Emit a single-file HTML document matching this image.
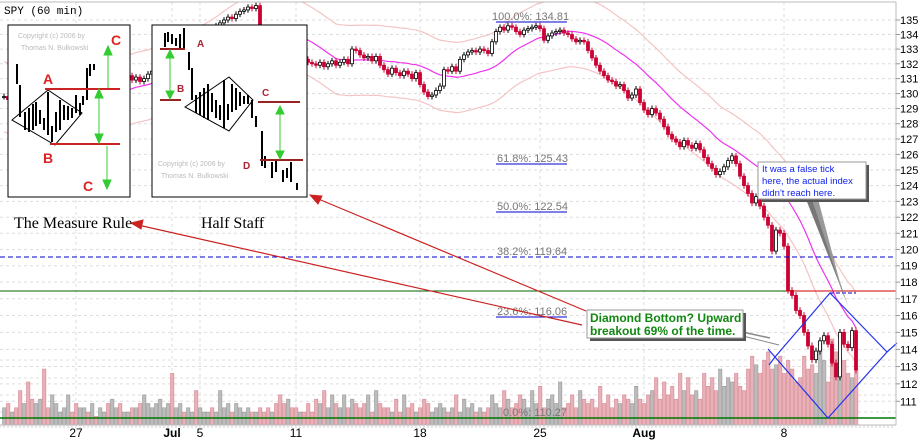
<!DOCTYPE html>
<html><head><meta charset="utf-8"><style>
body{margin:0;background:#fff;}
svg{display:block;font-family:"Liberation Sans",sans-serif;}
</style></head><body>
<svg id="chart" width="920" height="440" viewBox="0 0 920 440" xmlns="http://www.w3.org/2000/svg">
<rect x="0" y="0" width="920" height="440" fill="#fff"/>
<g id="grid"></g>
<g id="vol"></g>
<g id="bands"></g>
<g id="candles"></g>
<g id="overlay">
 <line x1="0" y1="257" x2="896" y2="257" stroke="#0000cc" stroke-dasharray="5,3"/>
 <line x1="0" y1="291" x2="785" y2="291" stroke="#006600"/>
 <line x1="785" y1="291" x2="896" y2="291" stroke="#cc0000"/>
 <line x1="0" y1="418" x2="896" y2="418" stroke="#007700" stroke-width="1.5"/>
 <line x1="830" y1="293" x2="856" y2="293" stroke="#0000cc" stroke-dasharray="4,2"/>
 <polygon points="830,293 887,352 828,418 775,357" fill="none" stroke="#2233ee" stroke-width="1.2"/>
 <line x1="887" y1="352" x2="897" y2="343" stroke="#2233ee" stroke-width="1.2"/>
 <line x1="775" y1="357" x2="768" y2="349" stroke="#2233ee" stroke-width="1.2"/>
 <line x1="775" y1="357" x2="769" y2="365" stroke="#2233ee" stroke-width="1.2"/>
</g>
<g id="fib" font-size="11" fill="#777">
 <text x="492" y="20">100.0%: 134.81</text>
 <line x1="496" y1="22" x2="567" y2="22" stroke="#0000cc"/>
 <text x="497" y="162">61.8%: 125.43</text>
 <line x1="496" y1="164" x2="567" y2="164" stroke="#0000cc"/>
 <text x="497" y="210">50.0%: 122.54</text>
 <line x1="496" y1="212" x2="567" y2="212" stroke="#0000cc"/>
 <text x="497" y="255">38.2%: 119.64</text>
 <text x="497" y="315">23.6%: 116.06</text>
 <line x1="496" y1="317" x2="567" y2="317" stroke="#0000cc"/>
 <text x="503" y="416">0.0%: 110.27</text>
</g>
<line x1="0" y1="2" x2="896" y2="2" stroke="#bbb"/>
<line x1="0" y1="425" x2="896" y2="425" stroke="#bbb"/>
<line x1="896" y1="2" x2="896" y2="425" stroke="#bbb"/>
<g id="yaxis" font-size="11" fill="#000"></g>
<g id="xaxis" font-size="12" fill="#000"></g>
<text x="4" y="14" font-size="11" fill="#000" font-family="Liberation Mono, monospace">SPY (60 min)</text>

<g>
 <rect x="8" y="25" width="122" height="172" fill="#fff" stroke="#000"/>
 <text x="18" y="38" font-size="7" fill="#bbb">Copyright (c) 2006 by</text>
 <text x="21" y="50" font-size="7" fill="#bbb">Thomas N. Bulkowski</text>
 <polygon points="12,120 48,90 82,113 55,145" fill="none" stroke="#000"/>
 <g stroke="#000" stroke-width="2">
  <line x1="17" y1="64" x2="17" y2="84"/><line x1="20" y1="85" x2="20" y2="117"/><line x1="25" y1="112" x2="25" y2="130"/>
  <line x1="29" y1="108" x2="29" y2="132"/><line x1="33" y1="104" x2="33" y2="130"/><line x1="36" y1="102" x2="36" y2="126"/>
  <line x1="40" y1="110" x2="40" y2="124"/><line x1="44" y1="118" x2="44" y2="130"/><line x1="48" y1="92" x2="48" y2="135"/>
  <line x1="52" y1="126" x2="52" y2="142"/><line x1="56" y1="112" x2="56" y2="132"/><line x1="60" y1="100" x2="60" y2="130"/>
  <line x1="64" y1="105" x2="64" y2="120"/><line x1="68" y1="106" x2="68" y2="120"/><line x1="72" y1="108" x2="72" y2="118"/>
  <line x1="76" y1="95" x2="76" y2="113"/><line x1="80" y1="103" x2="80" y2="115"/><line x1="83" y1="96" x2="83" y2="105"/>
  <line x1="87" y1="68" x2="87" y2="100"/><line x1="90" y1="64" x2="90" y2="76"/><line x1="94" y1="64" x2="94" y2="70"/>
 </g>
 <line x1="45" y1="89" x2="120" y2="89" stroke="#cc2222" stroke-width="2"/>
 <line x1="50" y1="144" x2="120" y2="144" stroke="#cc2222" stroke-width="2"/>
 <g stroke="#33cc33" fill="#33cc33">
  <line x1="108" y1="48" x2="108" y2="88"/><polygon points="104,55 108,46 112,55"/>
  <line x1="99" y1="91" x2="99" y2="142"/><polygon points="95,98 99,89 103,98"/><polygon points="95,134 99,143 103,134"/>
  <line x1="107" y1="146" x2="107" y2="188"/><polygon points="103,180 107,189 111,180"/>
 </g>
 <g fill="#dd2222" font-size="14" font-weight="bold">
  <text x="111" y="45">C</text><text x="43" y="84">A</text><text x="43" y="163">B</text><text x="83" y="191">C</text>
 </g>
</g>
<g>
 <rect x="152" y="25" width="155" height="172" fill="#fff" stroke="#000"/>
 <g stroke="#000" stroke-width="2">
  <line x1="165" y1="33" x2="165" y2="47"/><line x1="168" y1="32" x2="168" y2="42"/><line x1="172" y1="34" x2="172" y2="44"/>
  <line x1="176" y1="38" x2="176" y2="46"/><line x1="180" y1="34" x2="180" y2="48"/><line x1="184" y1="28" x2="184" y2="48"/>
  <line x1="189" y1="52" x2="189" y2="70"/><line x1="192" y1="68" x2="192" y2="100"/><line x1="196" y1="95" x2="196" y2="113"/>
  <line x1="200" y1="92" x2="200" y2="115"/><line x1="204" y1="88" x2="204" y2="118"/><line x1="208" y1="84" x2="208" y2="120"/>
  <line x1="212" y1="93" x2="212" y2="112"/><line x1="216" y1="100" x2="216" y2="118"/><line x1="220" y1="105" x2="220" y2="120"/>
  <line x1="224" y1="80" x2="224" y2="128"/><line x1="228" y1="104" x2="228" y2="120"/><line x1="232" y1="84" x2="232" y2="112"/>
  <line x1="236" y1="88" x2="236" y2="110"/><line x1="240" y1="92" x2="240" y2="106"/><line x1="244" y1="96" x2="244" y2="104"/>
  <line x1="248" y1="95" x2="248" y2="104"/><line x1="252" y1="100" x2="252" y2="118"/><line x1="256" y1="116" x2="256" y2="127"/>
  <line x1="262" y1="131" x2="262" y2="166"/><line x1="265" y1="156" x2="265" y2="168"/><line x1="272" y1="162" x2="272" y2="178"/>
  <line x1="276" y1="160" x2="276" y2="172"/><line x1="283" y1="170" x2="283" y2="182"/><line x1="287" y1="168" x2="287" y2="178"/>
  <line x1="291" y1="162" x2="291" y2="182"/><line x1="297" y1="183" x2="297" y2="190"/>
 </g>
 <polygon points="185,107 229,77 253,100 229,131" fill="none" stroke="#000"/>
 <line x1="160" y1="49" x2="185" y2="49" stroke="#992222" stroke-width="2"/>
 <line x1="160" y1="100" x2="181" y2="100" stroke="#992222" stroke-width="2"/>
 <line x1="258" y1="102" x2="300" y2="102" stroke="#992222" stroke-width="2"/>
 <line x1="260" y1="160" x2="303" y2="160" stroke="#992222" stroke-width="2"/>
 <g stroke="#33cc33" fill="#33cc33">
  <line x1="170" y1="51" x2="170" y2="98"/><polygon points="166,58 170,50 174,58"/><polygon points="166,91 170,99 174,91"/>
  <line x1="280" y1="106" x2="280" y2="158"/><polygon points="276,114 280,106 284,114"/><polygon points="276,151 280,159 284,151"/>
 </g>
 <g fill="#aa2233" font-size="10" font-weight="bold">
  <text x="197" y="47">A</text><text x="177" y="92">B</text><text x="262" y="96">C</text><text x="243" y="169">D</text>
 </g>
 <text x="158" y="166" font-size="7" fill="#bbb">Copyright (c) 2006 by</text>
 <text x="161" y="178" font-size="7" fill="#bbb">Thomas N. Bulkowski</text>
</g>
<text x="14" y="228" font-size="16" font-family="Liberation Serif, serif" fill="#000">The Measure Rule</text>
<text x="201" y="228" font-size="16" font-family="Liberation Serif, serif" fill="#000">Half Staff</text>

<g stroke="#cc2222" fill="#cc2222">
 <line x1="586" y1="311" x2="316" y2="198" stroke-width="1.2"/>
 <polygon points="310,195 322,196 318,204"/>
 <line x1="582" y1="325" x2="138" y2="225" stroke-width="1.2"/>
 <polygon points="131,223 143,220 141,229"/>
</g>
<g>
 <polyline points="743,331 747,333 770,338" fill="none" stroke="#888" stroke-width="1.5"/>
 <line x1="743" y1="336" x2="779" y2="345" stroke="#888"/>
 <rect x="590" y="313" width="156" height="28" fill="#555"/>
 <rect x="587" y="310" width="156" height="28" fill="#fff" stroke="#999"/>
 <text x="590" y="322" font-size="12" font-weight="bold" fill="#118811">Diamond Bottom? Upward</text>
 <text x="590" y="335" font-size="12" font-weight="bold" fill="#118811">breakout 69% of the time.</text>
</g>
<g>
 <polygon points="806,199 812,199 848,306" fill="#777"/>
 <polygon points="812,199 818,199 844,298" fill="#999"/>
 <rect x="761" y="165" width="108" height="37" fill="#555"/>
 <rect x="758" y="162" width="108" height="37" fill="#fff" stroke="#999"/>
 <text x="762" y="172" font-size="9.5" fill="#1122ee">It was a false tick</text>
 <text x="762" y="184" font-size="9.5" fill="#1122ee">here, the actual index</text>
 <text x="762" y="196" font-size="9.5" fill="#1122ee">didn't reach here.</text>
</g>
</svg>
<script>
const closes = [129.8,129.6,129.9,129.4,129.2,129.5,129.0,128.8,129.1,129.4,129.0,128.7,129.0,129.3,129.6,
129.8,130.1,129.7,129.5,129.9,130.3,130.0,130.4,130.2,130.6,130.9,130.5,130.8,131.1,130.7,131.0,
131.2,130.9,131.1,130.8,131.0,131.3,131.5,131.8,
132.0,132.3,132.6,132.4,132.8,133.1,133.0,133.4,133.6,133.5,133.9,134.1,134.3,134.2,134.6,134.8,135.0,135.2,135.1,135.4,135.6,
135.7,135.9,135.8,136.0,133.0,132.8,132.6,132.9,132.7,
132.5,132.3,132.6,132.4,132.2,132.5,132.3,132.1,132.0,
131.9,132.1,131.8,132.0,132.2,131.9,132.1,132.3,132.0,
133.0,132.9,132.6,132.4,132.5,132.2,132.5,
131.9,131.6,131.3,131.7,131.4,131.2,131.5,131.3,131.0,
131.4,130.6,130.1,129.8,129.9,130.2,130.5,
131.6,131.5,131.8,131.5,132.3,132.6,132.8,132.9,132.8,133.0,132.9,132.7,
133.5,134.2,134.5,134.3,134.6,134.5,134.2,134.0,134.3,134.4,134.5,134.6,134.4,
133.6,133.9,134.1,134.2,134.3,134.1,134.0,133.7,133.5,133.6,133.5,
132.9,132.4,131.9,131.5,131.2,130.9,130.8,130.5,130.6,
130.2,129.7,129.9,130.3,129.4,128.9,128.6,129.0,128.7,128.3,
127.8,127.3,127.0,126.8,126.5,126.9,126.6,126.4,126.7,126.3,
125.8,125.4,125.1,124.7,124.9,125.2,125.6,125.9,125.4,
124.6,124.0,123.5,122.9,123.3,122.7,122.0,121.5,
119.9,121.2,121.0,120.2,
117.5,117.2,116.3,116.0,115.0,114.2,113.4,
113.9,114.5,114.8,114.3,113.2,112.4,115.0,114.3,114.1,115.1,112.8];
const volumes = [4,5,3,4,8,5,10,6,5,6,13,4,7,5,3,
4,7,3,5,4,4,3,5,2,4,3,5,6,4,5,3,
3,4,4,5,7,5,4,5,6,4,
5,12,4,5,3,4,3,8,4,3,
3,4,3,8,4,5,3,5,4,3,
4,3,3,4,3,4,3,5,7,5,6,4,4,3,3,5,3,6,5,8,
4,7,5,4,7,4,6,5,4,5,7,3,8,5,4,4,3,6,3,7,
4,5,3,4,6,5,3,4,5,4,3,4,7,3,6,4,5,3,4,3,
4,7,5,4,8,6,4,5,7,6,4,8,5,9,4,6,7,5,10,4,
5,7,4,8,6,5,6,4,9,5,7,4,6,5,7,6,5,9,6,5,
7,8,11,6,10,7,9,6,12,8,11,7,8,6,12,9,11,8,13,9,
11,10,12,9,8,13,16,14,12,15,17,13,14,16,12,15,13,10,11,16,
13,14,12,19,15,10,20,17,11,15,12,11,13];
const priceTicks = [111,112,113,114,115,116,117,118,119,120,121,122,123,124,125,126,127,128,129,130,131,132,133,134,135];
const dateLabels = ["27","Jul","5","11","18","25","Aug","8"];
const dateBars = [18,42,49,73,104,134,160,195];

const NS='http://www.w3.org/2000/svg';
const yP = p => 139 + 1948*Math.log(127/p);
const xB = i => 4 + 4*i;
const yV = v => 425 - v*4.3;
function mk(tag, attrs, parent){const e=document.createElementNS(NS,tag);for(const k in attrs)e.setAttribute(k,attrs[k]);parent.appendChild(e);return e;}

const grid=document.getElementById('grid'), yaxis=document.getElementById('yaxis'), xaxis=document.getElementById('xaxis');
priceTicks.forEach(p=>{
  const l=mk('line',{x1:0,x2:896,y1:yP(p),y2:yP(p),stroke:'#ddd','stroke-dasharray':'3,3'},grid);
  
  
  mk('line',{x1:896,x2:900,y1:yP(p),y2:yP(p),stroke:'#999'},yaxis);
  const t=mk('text',{x:900,y:yP(p)+4},yaxis);t.textContent=p;
  
  
});
[360,378,395,412].forEach(y=>mk('line',{x1:0,x2:896,y1:y,y2:y,stroke:'#ddd','stroke-dasharray':'3,3'},grid));
dateLabels.forEach((d,k)=>{
  const x=xB(dateBars[k]);
  const l=mk('line',{x1:x,x2:x,y1:2,y2:425,stroke:'#ddd','stroke-dasharray':'3,3'},grid);
  
  
  const t=mk('text',{x:x,y:437,'text-anchor':'middle','font-weight':(d==='Jul'||d==='Aug')?'bold':'normal'},xaxis);t.textContent=d;
  
  
});
for(let x=0;x<896;x+=4) mk('line',{x1:x,x2:x,y1:425,y2:428,stroke:'#ccc'},xaxis);

const vol=document.getElementById('vol');
volumes.forEach((v,i)=>{
  const o=i>0?closes[i-1]:closes[i];const down=closes[i]<o;
  const r=mk('rect',{x:xB(i)-1.5,y:yV(v),width:3.4,height:425-yV(v),fill:down?'#e8b0b8':'#bcbcbc',stroke:down?'#d88890':'#999','stroke-width':0.6},vol);
  
  
});

const bands=document.getElementById('bands');
let mid=[],up=[],lo=[];
for(let i=0;i<closes.length;i++){
  const s=closes.slice(Math.max(0,i-19),i+1);const m=s.reduce((a,b)=>a+b,0)/s.length;
  mid.push(xB(i)+','+yP(m));up.push(xB(i)+','+yP(m*1.018));lo.push(xB(i)+','+yP(m*0.982));
}
const clip=mk('clipPath',{id:'plotclip'},bands);mk('rect',{x:0,y:2,width:896,height:423},clip);
bands.setAttribute('clip-path','url(#plotclip)');
let e1=mk('polyline',{points:up.join(' '),fill:'none',stroke:'#f4c4c4','stroke-width':1.2},bands);


let e2=mk('polyline',{points:lo.join(' '),fill:'none',stroke:'#f4c4c4','stroke-width':1.2},bands);


let ma=mk('polyline',{points:mid.join(' '),fill:'none',stroke:'#ee33ee','stroke-width':1.2},bands);



const cg=document.getElementById('candles');cg.setAttribute('clip-path','url(#plotclip)');
closes.forEach((c,i)=>{
  const o=i>0?closes[i-1]:c;const down=c<o;const x=xB(i);
  const hi=Math.max(o,c)+0.2, lw=Math.min(o,c)-0.2;
  const g=mk('g',{},cg);
  
  
  mk('line',{x1:x,x2:x,y1:yP(hi),y2:yP(lw),stroke:down?'#cc0033':'#000'},g);
  const top=yP(Math.max(o,c)),bh=Math.max(1,yP(Math.min(o,c))-top);
  mk('rect',{x:x-1.5,y:top,width:3,height:bh,fill:down?'#cc0033':'#fff',stroke:down?'#cc0033':'#000','stroke-width':0.8},g);
});
</script>
</body></html>
